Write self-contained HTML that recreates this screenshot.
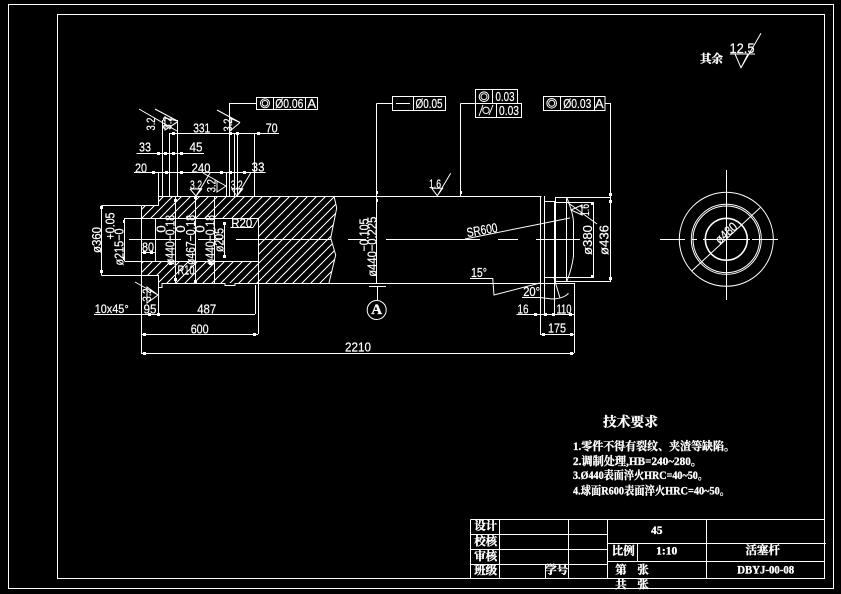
<!DOCTYPE html>
<html><head><meta charset="utf-8"><title>活塞杆</title>
<style>
html,body{margin:0;padding:0;background:#000;width:841px;height:594px;overflow:hidden}
svg{display:block}
.l{stroke:#fff;stroke-width:1;fill:none;shape-rendering:crispEdges}
.c{stroke:#fff;stroke-width:1;fill:none}
.t{font-family:"Liberation Sans",sans-serif;font-size:13px;fill:#fff;stroke:#fff;stroke-width:.2;text-anchor:middle;dominant-baseline:central}
.s{font-size:12px}
.k{font-family:"Liberation Serif","Noto Serif CJK SC",serif;font-size:11.5px;font-weight:bold;fill:#fff;stroke:#fff;stroke-width:.35;text-anchor:middle;dominant-baseline:central}
.q{font-family:"Liberation Serif","Noto Serif CJK SC",serif;font-size:11.5px;font-weight:bold;fill:#fff;stroke:#fff;stroke-width:.3;dominant-baseline:central}
</style></head><body>
<svg width="841" height="594" viewBox="0 0 841 594" xmlns="http://www.w3.org/2000/svg">
<defs>
<pattern id="h" patternUnits="userSpaceOnUse" width="9" height="9">
<path d="M-1 10L10 -1" stroke="#fff" stroke-width="1" shape-rendering="crispEdges"/>
<path d="M-1 1L1 -1M8 10L10 8" stroke="#fff" stroke-width="1" shape-rendering="crispEdges"/>
</pattern>
</defs>
<rect width="841" height="594" fill="#000"/>
<!-- frames -->
<rect class="l" x="8.5" y="4.5" width="825" height="584"/>
<rect class="l" x="57.5" y="14.5" width="767" height="564"/>

<!-- hatching -->
<path fill="url(#h)" d="M141 205L158 205L158 196L334 196L336.700 208L330.700 238L335.700 255L329 283L258 283L258 218L141 218Z"/>
<path fill="url(#h)" d="M141 261L258 261L258 283L162 283L158 283L158 275L141 275Z"/>

<!-- shaft outline -->
<path class="l" d="M141.500 205.500H158.500V196.500H541.500M141.500 205.500V353.500M141.500 275.500H158.500V287.500H162V283.500H225V285.500H235V283.500H255"/>
<path class="l" d="M255 283.500H574M124.500 218.500H258.500V334M124.500 261.500H258.500M155.500 218.500V261.500"/>
<path class="l" d="M175.500 196V283M195.500 196V283M214.500 196V283"/>
<path class="c" d="M334 196L336.700 208L330.700 238L335.700 255L329 283"/>
<!-- center lines -->
<path class="l" d="M129 239.500H181M198 239.500H222M236 239.500H331M348 239.500H366M386 239.500H480M498 239.500H518M536 239.500H580"/>

<!-- right end -->
<path class="l" d="M540.500 196V334M544.500 196V314M544.500 201.500H554.500V314M544 277.500H593M555.500 281.500V197.500H610M555.500 281.500H611M566.500 197.500V281.500M554 202.500H593.500V277.500M610.500 197V281M574.500 283V353"/>
<path class="c" d="M567 198Q573 213 573.500 222L573.500 256Q572 268 567 281"/>
<path class="c" d="M465 239L570 218"/>
<path class="c" d="M567 202L597 224M571 210L582 205V215Z"/>
<path class="c" d="M492.700 278L494 295L540 283M522 297.500H540L552 299Q562 299 568 294L568 293M554 278L560 298"/>
<path class="l" d="M470 278.500H492.500"/>

<!-- verticals / extensions -->
<path class="l" d="M162.500 196V120M169.500 196V133M177.500 196V120M229.500 196V103.500H256.500M234.500 196V133M237.500 196V133M254.500 196V133M226.500 172V196M158.500 172V205"/>
<path class="l" d="M169 133.500H279M136.500 153.500H204M134 172.500H265.500"/>
<path class="l" d="M101.500 205.500H141M101.500 275.500H141M101.500 205.500V275.500M124.500 218V261M224.500 222V257M141 252.500H155"/>
<path class="l" d="M94 314.500H255M158.500 287V314M255.500 285V314M141 334.500H258M141 353.500H574M516.500 314.500H574M540 334.500H574"/>
<path class="l" d="M230.500 227.500H253"/>
<path class="c" d="M253 227.500L258 219"/>
<path class="l" d="M376.500 103.500V283M376.500 103.500H392M460.500 103.500V196M460.500 103.500H475.500M605 103.500H610.500V197"/>
<path class="l" d="M369 286.500H386M377.500 287V300"/>
<circle class="c" cx="376.700" cy="310" r="9.500"/>
<text class="k" x="376.700" y="310" style="font-size:15px">A</text>

<!-- surface marks -->
<g class="c">
<path d="M139 109L177 131M165 116V130M177 122L165 130"/>
<path d="M155 109L177.500 121L165 118V130L177.500 122"/>
<path d="M217 110L240 122.500L230 118V131L240 122.500"/>
<path d="M190 189H201.700L196 196L190 189M196 196L210 173"/>
<path d="M231.700 189H242.700L237 196L231.700 189M237 196L250.700 173"/>
<path d="M203 173L226 186L217 181V192L226 186"/>
<path d="M135 282L158 295L147 287V303L158 295"/>
<path d="M431.700 188.300H442.700L437.300 195.700L431.700 188.300M437.300 195.700L450.700 173.300"/>
<path d="M735 54H748L741 67.700L735 54M741 67.700L761 33.300M730 54H755"/>
</g>

<!-- ticks -->
<path fill="#fff" d="M172 132h3v3h-3zM229 132h3v3h-3zM236 132h3v3h-3zM257 132h3v3h-3zM157 152h3v3h-3zM164 152h3v3h-3zM172 152h3v3h-3zM180 152h3v3h-3zM152 171h3v3h-3zM165 171h3v3h-3zM180 171h3v3h-3zM220 171h3v3h-3zM229 171h3v3h-3zM243 171h3v3h-3zM100 206h3v3h-3zM100 270h3v3h-3zM123 220h2v3h-2zM123 257h2v3h-2zM143 251h3v3h-3zM150 251h3v3h-3zM174 199h3v3h-3zM194 196h3v3h-3zM174 278h3v3h-3zM194 280h3v3h-3zM223 222h3v3h-3zM223 255h3v3h-3zM143 333h3v3h-3zM253 333h3v3h-3zM143 352h3v3h-3zM570 352h3v3h-3zM169 262h3v3h-3zM209 262h3v3h-3zM376 191h2v3h-2zM376 199h2v3h-2zM460 191h2v3h-2zM609 193h3v3h-3zM609 200h3v3h-3zM609 277h3v3h-3zM534 313h3v3h-3zM544 313h3v3h-3zM552 313h3v3h-3zM569 313h3v3h-3zM542 333h3v3h-3zM570 333h3v3h-3zM591 202h3v3h-3zM591 275h3v3h-3zM148 313h3v3h-3zM157 313h3v3h-3z"/>

<!-- horizontal dim text -->
<text class="t" x="201.700" y="128" textLength="17" lengthAdjust="spacingAndGlyphs">331</text>
<text class="t" x="271.700" y="128" textLength="12" lengthAdjust="spacingAndGlyphs">70</text>
<text class="t" x="145" y="147" textLength="12" lengthAdjust="spacingAndGlyphs">33</text>
<text class="t" x="196" y="147" textLength="13" lengthAdjust="spacingAndGlyphs">45</text>
<text class="t" x="141" y="168" textLength="12" lengthAdjust="spacingAndGlyphs">20</text>
<text class="t" x="201" y="168" textLength="19" lengthAdjust="spacingAndGlyphs">240</text>
<text class="t" x="258" y="167" textLength="13" lengthAdjust="spacingAndGlyphs">33</text>
<text class="t" x="148" y="247" textLength="12" lengthAdjust="spacingAndGlyphs">80</text>
<text class="t" x="186" y="270" textLength="17" lengthAdjust="spacingAndGlyphs">R10</text>
<text class="t" x="241.700" y="223" textLength="21" lengthAdjust="spacingAndGlyphs">R20</text>
<text class="t s" x="111.700" y="309" textLength="34" lengthAdjust="spacingAndGlyphs">10x45°</text>
<text class="t" x="150" y="309" textLength="13" lengthAdjust="spacingAndGlyphs">95</text>
<text class="t" x="206.700" y="309" textLength="19" lengthAdjust="spacingAndGlyphs">487</text>
<text class="t" x="199.700" y="329" textLength="18" lengthAdjust="spacingAndGlyphs">600</text>
<text class="t" x="358" y="347" textLength="26" lengthAdjust="spacingAndGlyphs">2210</text>
<text class="t" x="557" y="328" textLength="18" lengthAdjust="spacingAndGlyphs">175</text>
<text class="t" x="523" y="309" textLength="11" lengthAdjust="spacingAndGlyphs">16</text>
<text class="t" x="564" y="309" textLength="15" lengthAdjust="spacingAndGlyphs">110</text>
<text class="t" x="531.700" y="291.700" textLength="17" lengthAdjust="spacingAndGlyphs">20°</text>
<text class="t" x="479" y="272.700" textLength="16" lengthAdjust="spacingAndGlyphs">15°</text>
<text class="t s" x="435" y="184" textLength="12" lengthAdjust="spacingAndGlyphs">1.6</text>
<text class="t s" x="196" y="185" textLength="12" lengthAdjust="spacingAndGlyphs">3.2</text>
<text class="t s" x="236.700" y="185" textLength="12" lengthAdjust="spacingAndGlyphs">3.2</text>
<text class="t" x="742" y="48" textLength="25" lengthAdjust="spacingAndGlyphs" style="font-size:14px">12.5</text>

<!-- rotated text -->
<text class="t" transform="translate(96.700,240) rotate(-90)" textLength="26" lengthAdjust="spacingAndGlyphs">ø360</text>
<text class="t" transform="translate(110,226) rotate(-90)" textLength="27" lengthAdjust="spacingAndGlyphs">+0.05</text>
<text class="t" transform="translate(119,247) rotate(-90)" textLength="37" lengthAdjust="spacingAndGlyphs">ø215−0</text>
<text class="t" transform="translate(161,229) rotate(-90)">0</text>
<text class="t" transform="translate(170,240) rotate(-90)" textLength="50" lengthAdjust="spacingAndGlyphs">ø440−0.18</text>
<text class="t" transform="translate(180.700,229) rotate(-90)">0</text>
<text class="t" transform="translate(190.700,240) rotate(-90)" textLength="50" lengthAdjust="spacingAndGlyphs">ø467−0.18</text>
<text class="t" transform="translate(200,229) rotate(-90)">0</text>
<text class="t" transform="translate(210,240) rotate(-90)" textLength="50" lengthAdjust="spacingAndGlyphs">ø440−0.18</text>
<text class="t" transform="translate(219,240) rotate(-90)" textLength="24" lengthAdjust="spacingAndGlyphs">ø205</text>
<text class="t" transform="translate(364,235) rotate(-90)" textLength="33" lengthAdjust="spacingAndGlyphs">−0.105</text>
<text class="t" transform="translate(372,246.700) rotate(-90)" textLength="60" lengthAdjust="spacingAndGlyphs">ø440−0.225</text>
<text class="t" transform="translate(587.500,240) rotate(-90)" textLength="30" lengthAdjust="spacingAndGlyphs">ø380</text>
<text class="t" transform="translate(604,240) rotate(-90)" textLength="30" lengthAdjust="spacingAndGlyphs">ø436</text>
<text class="t s" transform="translate(585,210) rotate(-90)" textLength="12" lengthAdjust="spacingAndGlyphs">1.6</text>
<text class="t s" transform="translate(151,124) rotate(-90)" textLength="13" lengthAdjust="spacingAndGlyphs">3.2</text>
<text class="t s" transform="translate(167.700,123) rotate(-90)" textLength="13" lengthAdjust="spacingAndGlyphs">3.2</text>
<text class="t s" transform="translate(228,125) rotate(-90)" textLength="13" lengthAdjust="spacingAndGlyphs">3.2</text>
<text class="t s" transform="translate(211.700,185.700) rotate(-90)" textLength="13" lengthAdjust="spacingAndGlyphs">3.2</text>
<text class="t s" transform="translate(147,295) rotate(-90)" textLength="13" lengthAdjust="spacingAndGlyphs">3.2</text>
<text class="t" transform="translate(482,230) rotate(-10)" textLength="31" lengthAdjust="spacingAndGlyphs">SR600</text>
<text class="t" transform="translate(726,233) rotate(-42)" textLength="25" lengthAdjust="spacingAndGlyphs">ø480</text>

<!-- FCFs -->
<g class="l">
<rect x="256.500" y="97.500" width="61" height="12"/><path d="M273.500 97.500V109.500M305.500 97.500V109.500"/>
<rect x="392.500" y="96.500" width="53" height="14"/><path d="M413.500 96.500V110.500M396 103.500H410"/>
<rect x="475.500" y="89.500" width="42" height="14"/><path d="M492.500 89.500V103.500"/>
<rect x="475.500" y="103.500" width="46" height="14"/><path d="M496.500 103.500V117.500"/>
<rect x="543.500" y="96.500" width="61.500" height="14"/><path d="M560.500 96.500V110.500M594.500 96.500V110.500"/>
</g>
<g class="c">
<circle cx="265" cy="103.300" r="4.500"/><circle cx="265" cy="103.300" r="2.800"/>
<circle cx="484" cy="96.700" r="4.800"/><circle cx="484" cy="96.700" r="3"/>
<circle cx="551.700" cy="103.300" r="4.800"/><circle cx="551.700" cy="103.300" r="3"/>
<circle cx="486" cy="110.300" r="3.200"/><path d="M479 116L483 105M489 115L493 105"/>
</g>
<text class="t" x="289.300" y="103.500" textLength="28" lengthAdjust="spacingAndGlyphs">Ø0.06</text>
<text class="t" x="311.700" y="103.500">A</text>
<text class="t" x="429" y="103.500" textLength="27" lengthAdjust="spacingAndGlyphs">Ø0.05</text>
<text class="t" x="505" y="96.700" textLength="19" lengthAdjust="spacingAndGlyphs">0.03</text>
<text class="t" x="509" y="110.500" textLength="20" lengthAdjust="spacingAndGlyphs">0.03</text>
<text class="t" x="577.300" y="103.500" textLength="28" lengthAdjust="spacingAndGlyphs">Ø0.03</text>
<text class="t" x="599.300" y="103.500">A</text>

<!-- side view -->
<circle class="c" cx="726.300" cy="239.300" r="47"/>
<circle class="c" cx="726.300" cy="239.300" r="35"/>
<circle class="c" cx="726.300" cy="239.300" r="33.300"/>
<circle class="c" cx="726.300" cy="239.300" r="21" style="stroke-width:1.600"/>
<path class="l" d="M660 239.500H685M692 239.500H697M703 239.500H750M752 239.500H778M726.500 170V300"/>
<path class="c" d="M691.700 271L760.700 207.300"/>

<!-- remark -->
<text class="q" x="700" y="59.500" textLength="23" lengthAdjust="spacingAndGlyphs">其余</text>

<!-- tech requirements -->
<text class="q" x="603" y="422" textLength="55" lengthAdjust="spacingAndGlyphs" style="font-size:13.500px">技术要求</text>
<text class="q" x="573" y="447" textLength="162" lengthAdjust="spacingAndGlyphs">1.零件不得有裂纹、夹渣等缺陷。</text>
<text class="q" x="573" y="462" textLength="129" lengthAdjust="spacingAndGlyphs">2.调制处理,HB=240~280。</text>
<text class="q" x="573" y="476" textLength="135" lengthAdjust="spacingAndGlyphs">3.Ø440表面淬火HRC=40~50。</text>
<text class="q" x="573" y="491.500" textLength="157" lengthAdjust="spacingAndGlyphs">4.球面R600表面淬火HRC=40~50。</text>

<!-- title block -->
<g class="l">
<path d="M470.500 519.500H824.500M470.500 519.500V578.500M499.500 519.500V578.500M568.500 519.500V578.500M607.500 519.500V578.500M706.500 519.500V578.500"/>
<path d="M470.500 534.500H607.500M470.500 549.500H607.500M470.500 564.500H607.500M545.500 564.500V578.500"/>
<path d="M607.500 543.500H826M607.500 561.500H824M637.500 543.500V561.500"/>
</g>
<text class="k" x="485.700" y="526.700">设计</text>
<text class="k" x="485.700" y="542">校核</text>
<text class="k" x="485.700" y="557">审核</text>
<text class="k" x="485.700" y="571">班级</text>
<text class="k" x="556.700" y="570.700">学号</text>
<text class="k" x="656.700" y="531">45</text>
<text class="k" x="623.300" y="551.700">比例</text>
<text class="k" x="666.700" y="551.700">1:10</text>
<text class="k" x="762.700" y="551">活塞杆</text>
<text class="k" x="621" y="570.700">第</text>
<text class="k" x="643" y="570.700">张</text>
<text class="k" x="621" y="585">共</text>
<text class="k" x="643" y="585">张</text>
<text class="k" x="765.700" y="570.700" textLength="57" lengthAdjust="spacingAndGlyphs">DBYJ-00-08</text>
</svg>
</body></html>
